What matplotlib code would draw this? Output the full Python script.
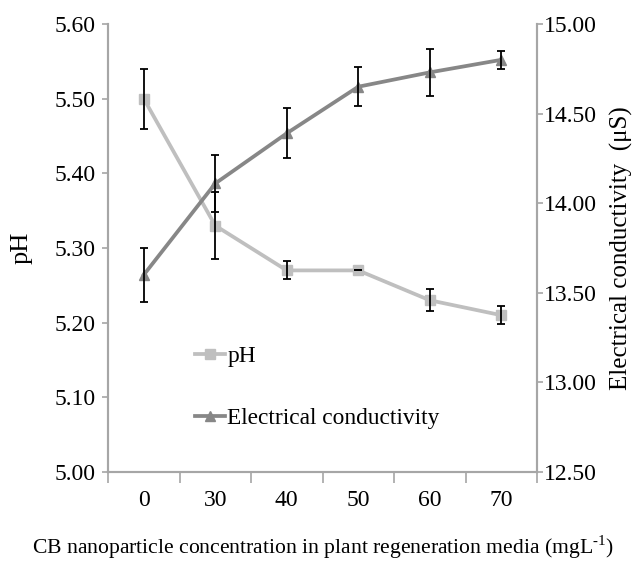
import matplotlib
matplotlib.use("Agg")
import matplotlib.pyplot as plt
import numpy as np

plt.rcParams['font.family'] = ['Liberation Serif', 'DejaVu Serif']
plt.rcParams['mathtext.fontset'] = 'custom'
plt.rcParams['mathtext.rm'] = 'Liberation Serif'

# data
concentrations = ["0", "30", "40", "50", "60", "70"]
ph_values = [5.50, 5.33, 5.27, 5.27, 5.23, 5.21]
ph_errors = [0.04, 0.045, 0.012, 0.0, 0.015, 0.012]
ec_values = [13.60, 14.11, 14.39, 14.65, 14.73, 14.80]
ec_errors = [0.15, 0.16, 0.14, 0.11, 0.13, 0.05]

ph_color = "#BFBFBF"
ec_color = "#878787"
axis_color = "#A6A6A6"

fig = plt.figure(figsize=(6.33, 5.61), dpi=100)
ax = fig.add_axes([108 / 633, 1 - 472 / 561, (537 - 108) / 633, (472 - 24) / 561])
ax2 = ax.twinx()

x = np.arange(len(concentrations))

# pH on left axis
ax.errorbar(x, ph_values, yerr=ph_errors, fmt="none", ecolor="black",
            elinewidth=1.3, capsize=3, capthick=1.3, zorder=4)
ph_line, = ax.plot(x, ph_values, color=ph_color, linewidth=2.7, marker="s",
                   markersize=6.5, zorder=3, label="pH")

# electrical conductivity on right axis
ax2.errorbar(x, ec_values, yerr=ec_errors, fmt="none", ecolor="black",
             elinewidth=1.3, capsize=3, capthick=1.3, zorder=4)
ec_line, = ax2.plot(x, ec_values, color=ec_color, linewidth=2.7, marker="^",
                    markersize=6.5, zorder=3, label="Electrical conductivity")

ax.set_xlim(-0.5, len(concentrations) - 0.5)
ax.set_ylim(5.0, 5.6)
ax2.set_ylim(12.5, 15.0)

ax.set_yticks(np.arange(5.0, 5.61, 0.1))
ax.set_yticklabels([f"{v:.2f}" for v in np.arange(5.0, 5.61, 0.1)])
ax2.set_yticks(np.arange(12.5, 15.01, 0.5))
ax2.set_yticklabels([f"{v:.2f}" for v in np.arange(12.5, 15.01, 0.5)])

# category boundaries as tick marks, labels centred
ax.set_xticks(np.arange(-0.5, len(concentrations)), labels=[])
ax.set_xticks(x, labels=concentrations, minor=True)
ax.tick_params(axis="x", which="major", length=8, width=1.2, color=axis_color, direction="out")
ax.tick_params(axis="x", which="minor", length=0, labelsize=17, pad=13)
ax.tick_params(axis="y", length=4, width=1.2, color=axis_color, labelsize=17, pad=5)
ax2.tick_params(axis="y", length=4, width=1.2, color=axis_color, labelsize=17, pad=1)

for a in (ax, ax2):
    a.spines["top"].set_visible(False)
    for side in ("left", "right", "bottom"):
        a.spines[side].set_color(axis_color)
        a.spines[side].set_linewidth(1.5)

ax.set_ylabel("pH", fontsize=19, labelpad=16)
ax2.set_ylabel("Electrical conductivity  (μS)", fontsize=18, labelpad=9)
ax.set_xlabel(r"CB nanoparticle concentration in plant regeneration media (mgL$^{\text{-1}}$)",
              fontsize=15.6, labelpad=16)

fig.legend(handles=[ph_line, ec_line], loc="upper left",
           bbox_to_anchor=(183 / 633, 1 - 334 / 561), frameon=False,
           fontsize=16.8, handlelength=1.3, handletextpad=0.1,
           labelspacing=1.75, borderpad=0)

fig.savefig("out.png", dpi=100)
